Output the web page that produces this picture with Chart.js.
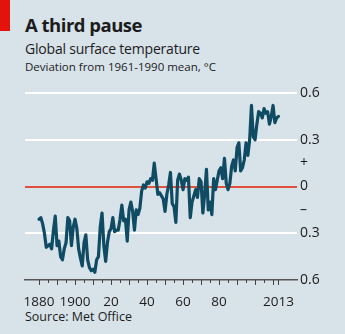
<!DOCTYPE html>
<html>
<head>
<meta charset="utf-8">
<script src="https://cdn.jsdelivr.net/npm/chart.js@4"></script>
<style>
  html, body { margin: 0; padding: 0; }
  body { width: 345px; height: 334px; background: #d7e2e9; position: relative; overflow: hidden; font-family: "Open Sans", sans-serif; color: #1c1c1c; }
  #redbox { position: absolute; left: 0; top: 0; width: 10px; height: 31px; background: #e3120b; }
  .txt { position: absolute; left: 25px; white-space: nowrap; }
  #title { top: 13px; font-size: 18.5px; font-weight: 700; line-height: 24px; letter-spacing: -0.5px; }
  #sub1 { top: 40px; font-size: 14px; line-height: 18px; letter-spacing: -0.2px; }
  #sub2 { top: 59px; font-size: 11.5px; line-height: 16px; }
  #source { top: 309px; font-size: 12.5px; line-height: 16px; }
  #wrap { position: absolute; left: 0; top: 0; width: 345px; height: 334px; }
</style>
</head>
<body>
<div id="redbox"></div>
<div class="txt" id="title">A third pause</div>
<div class="txt" id="sub1">Global surface temperature</div>
<div class="txt" id="sub2">Deviation from 1961-1990 mean, °C</div>
<div class="txt" id="source">Source: Met Office</div>
<div id="wrap"><canvas id="chart" width="345" height="334"></canvas></div>
<script>
// annual values, 1880-2013
const startYear = 1880;
const anomalies = [
  -0.21, -0.20, -0.24, -0.30, -0.39, -0.38, -0.37, -0.40, -0.28, -0.19,
  -0.38, -0.35, -0.45, -0.47, -0.40, -0.36, -0.20, -0.22, -0.38, -0.26,
  -0.21, -0.27, -0.40, -0.46, -0.51, -0.36, -0.31, -0.47, -0.52, -0.54,
  -0.53, -0.55, -0.47, -0.45, -0.26, -0.17, -0.38, -0.48, -0.36, -0.29,
  -0.27, -0.20, -0.29, -0.28, -0.28, -0.21, -0.12, -0.22, -0.21, -0.35,
  -0.15, -0.10, -0.16, -0.28, -0.15, -0.18, -0.14, -0.03, 0.01, -0.01,
  0.03, 0.02, 0.05, 0.04, 0.15, 0.05, -0.05, -0.04, -0.06, -0.08,
  -0.16, -0.05, 0.01, 0.09, -0.11, -0.13, -0.23, 0.04, 0.08, 0.04,
  -0.02, 0.05, 0.04, 0.06, -0.20, -0.10, -0.06, -0.02, -0.07, 0.05,
  0.03, -0.17, -0.05, 0.11, -0.15, -0.10, -0.18, 0.05, -0.02, 0.04,
  0.10, 0.12, 0.05, 0.18, 0.02, -0.02, 0.02, 0.13, 0.17, 0.10,
  0.25, 0.28, 0.10, 0.12, 0.17, 0.28, 0.20, 0.30, 0.52, 0.32,
  0.30, 0.40, 0.48, 0.47, 0.44, 0.50, 0.47, 0.48, 0.40, 0.45,
  0.52, 0.41, 0.44, 0.45
];
const years = anomalies.map((v, i) => startYear + i);

const xTicks = [1880, 1885, 1890, 1895, 1900, 1905, 1910, 1915, 1920, 1925, 1930, 1935, 1940,
  1945, 1950, 1955, 1960, 1965, 1970, 1975, 1980, 1985, 1990, 1995, 2000, 2005, 2010, 2013];
const xLabels = { 1880: "1880", 1900: "1900", 1920: "20", 1940: "40", 1960: "60", 1980: "80", 2013: "2013" };
const yTicks = [-0.6, -0.3, -0.15, 0, 0.15, 0.3, 0.6];
const yLabels = { "-0.6": "0.6", "-0.3": "0.3", "-0.15": "–", "0": "0", "0.15": "+", "0.3": "0.3", "0.6": "0.6" };

// little hanging ticks under the x axis, longer on the decades
const tickMarks = {
  id: "tickMarks",
  afterDraw(chart) {
    const ctx = chart.ctx;
    const xs = chart.scales.x;
    const bottom = chart.chartArea.bottom;
    ctx.save();
    ctx.strokeStyle = "#444";
    ctx.lineWidth = 1;
    xTicks.forEach(t => {
      const px = Math.round(xs.getPixelForValue(t)) + 0.5;
      const len = (t % 10 === 0 || t === 2013) ? 5 : 3;
      ctx.beginPath();
      ctx.moveTo(px, bottom);
      ctx.lineTo(px, bottom + len);
      ctx.stroke();
    });
    ctx.restore();
  }
};

new Chart(document.getElementById("chart"), {
  type: "line",
  data: {
    datasets: [{
      data: years.map((y, i) => ({ x: y, y: anomalies[i] })),
      borderColor: "#0f4b63",
      borderWidth: 3.2,
      pointRadius: 0,
      tension: 0,
      borderJoinStyle: "round",
      borderCapStyle: "round"
    }]
  },
  options: {
    responsive: false,
    animation: false,
    events: [],
    layout: { padding: { top: 93, left: 25, right: 0, bottom: 0 } },
    plugins: { legend: { display: false }, tooltip: { enabled: false } },
    scales: {
      x: {
        type: "linear",
        min: 1872.2,
        max: 2023.3,
        afterBuildTicks: s => { s.ticks = xTicks.map(v => ({ value: v })); },
        afterFit: s => { s.height = 54; },
        border: { display: true, color: "#555", width: 1.5 },
        grid: { display: false },
        ticks: {
          autoSkip: false,
          maxRotation: 0,
          padding: 6,
          color: "#1c1c1c",
          font: { family: "Open Sans", size: 13.5 },
          callback: v => xLabels[v] || ""
        }
      },
      y: {
        position: "right",
        min: -0.6,
        max: 0.6,
        afterBuildTicks: s => { s.ticks = yTicks.map(v => ({ value: v })); },
        afterFit: s => { s.width = 48; },
        border: { display: false },
        grid: {
          drawTicks: false,
          lineWidth: 2,
          color: c => {
            const v = c.tick.value;
            if (v === 0) return "#e0503a";
            if (v === 0.6 || v === 0.3 || v === -0.3) return "#ffffff";
            return "rgba(0,0,0,0)";
          }
        },
        ticks: {
          padding: 3,
          color: "#1c1c1c",
          font: { family: "Open Sans", size: 14 },
          callback: v => yLabels[String(v)] || ""
        }
      }
    }
  },
  plugins: [tickMarks]
});
</script>
</body>
</html>
